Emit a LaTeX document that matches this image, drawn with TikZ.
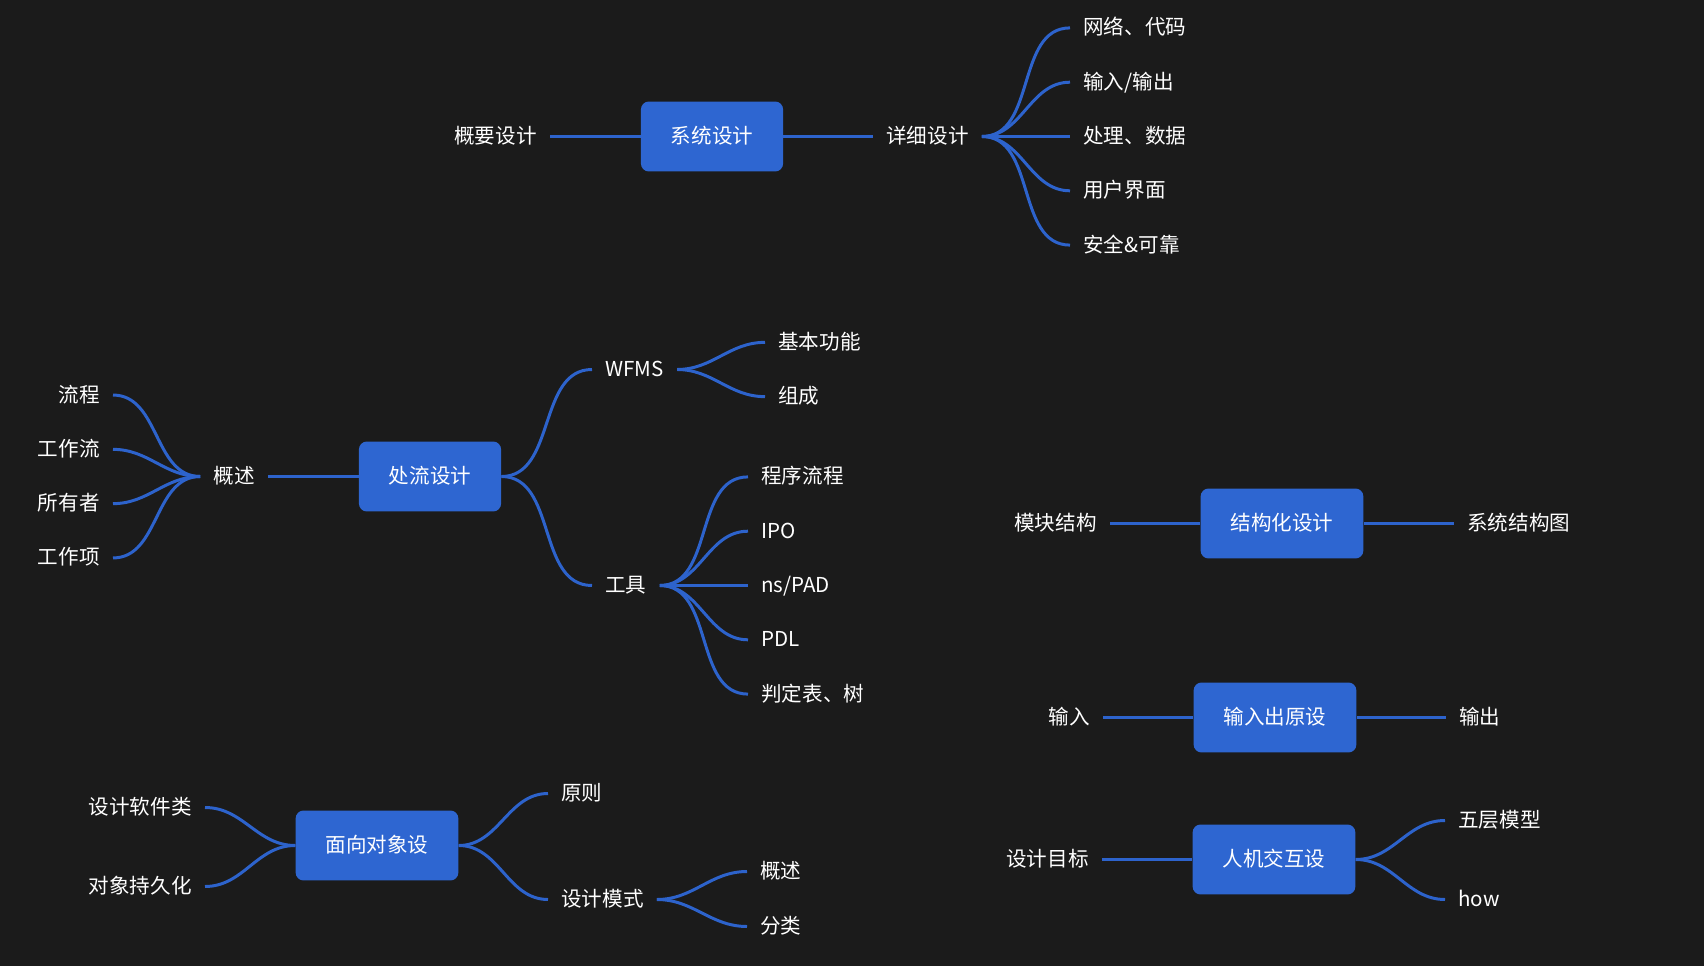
\documentclass[tikz,border=0pt]{standalone}
\usepackage{fontspec}
\setmainfont{Noto Sans CJK SC}
\usetikzlibrary{positioning}
\definecolor{bg}{HTML}{1B1B1B}
\definecolor{boxfill}{HTML}{2E66D1}
\definecolor{link}{HTML}{2D63CC}
\definecolor{txt}{HTML}{FFFFFF}

\begin{document}
\begin{tikzpicture}[
  x=0.02cm, y=-0.02cm,
  font=\fontsize{11.7}{14}\selectfont,
  topic/.style={fill=boxfill, rounded corners=0.16cm, text=txt, inner xsep=0.6cm,
    minimum height=1.4cm, text height=0.86em, text depth=0.06em},
  sub/.style={text=txt, inner xsep=0.26cm, inner ysep=0pt, text height=0.86em, text depth=0.06em},
  lnk/.style={draw=link, line width=1.7pt},
  br/.style={lnk, out=0, in=180},
  bl/.style={lnk, out=180, in=0},
]
\fill[bg] (0,0) rectangle (1704,966);
\begin{scope}[yshift=-0.03cm]
% system design (top)
\node[topic] (sys) at (712,135) {系统设计};
\node[sub, anchor=east] (gy) at (550,135) {概要设计};
\node[sub, anchor=west] (xx) at (873,135) {详细设计};
\draw[lnk] (gy.east) -- (sys.west);
\draw[lnk] (sys.east) -- (xx.west);
\foreach \t [count=\i] in {网络、代码, 输入/输出, 处理、数据, 用户界面, 安全\&可靠} {
  \node[sub, anchor=west] (xx\i) at (1070,{135+(\i-3)*54.3}) {\t};
  \draw[br] (xx.east) to (xx\i.west);
}

% process design (middle left)
\node[topic] (proc) at (430,475) {处流设计};
\node[sub, anchor=east] (gs) at (268,475) {概述};
\draw[lnk] (gs.east) -- (proc.west);
\foreach \t [count=\i] in {流程, 工作流, 所有者, 工作项} {
  \node[sub, anchor=east] (gs\i) at (113,{475+(\i-2.5)*54.3}) {\t};
  \draw[bl] (gs.west) to (gs\i.east);
}
\node[sub, anchor=west] (wfms) at (592,368) {WFMS};
\node[sub, anchor=west] (tool) at (592,584) {工具};
\draw[br] (proc.east) to (wfms.west);
\draw[br] (proc.east) to (tool.west);
\foreach \t [count=\i] in {基本功能, 组成} {
  \node[sub, anchor=west] (wf\i) at (765,{368+(\i-1.5)*54.3}) {\t};
  \draw[br] (wfms.east) to (wf\i.west);
}
\foreach \t [count=\i] in {程序流程, IPO, ns/PAD, PDL, 判定表、树} {
  \node[sub, anchor=west] (tl\i) at (748,{584+(\i-3)*54.3}) {\t};
  \draw[br] (tool.east) to (tl\i.west);
}

% structured design
\node[topic] (struct) at (1282,522) {结构化设计};
\node[sub, anchor=east] (mk) at (1110,522) {模块结构};
\node[sub, anchor=west] (sjt) at (1454,522) {系统结构图};
\draw[lnk] (mk.east) -- (struct.west);
\draw[lnk] (struct.east) -- (sjt.west);

% input/output design
\node[topic] (io) at (1275,716) {输入出原设};
\node[sub, anchor=east] (inp) at (1103,716) {输入};
\node[sub, anchor=west] (outp) at (1446,716) {输出};
\draw[lnk] (inp.east) -- (io.west);
\draw[lnk] (io.east) -- (outp.west);

% human-computer interaction
\node[topic] (hci) at (1274,858) {人机交互设};
\node[sub, anchor=east] (goal) at (1102,858) {设计目标};
\node[sub, anchor=west] (five) at (1445,819) {五层模型};
\node[sub, anchor=west] (how) at (1445,898) {how};
\draw[lnk] (goal.east) -- (hci.west);
\draw[br] (hci.east) to (five.west);
\draw[br] (hci.east) to (how.west);

% object-oriented design (bottom left)
\node[topic] (oo) at (377,844) {面向对象设};
\node[sub, anchor=east] (rj) at (205,806) {设计软件类};
\node[sub, anchor=east] (cj) at (205,885) {对象持久化};
\draw[bl] (oo.west) to (rj.east);
\draw[bl] (oo.west) to (cj.east);
\node[sub, anchor=west] (yz) at (548,792) {原则};
\node[sub, anchor=west] (ms) at (548,898) {设计模式};
\draw[br] (oo.east) to (yz.west);
\draw[br] (oo.east) to (ms.west);
\node[sub, anchor=west] (ms1) at (747,870) {概述};
\node[sub, anchor=west] (ms2) at (747,925) {分类};
\draw[br] (ms.east) to (ms1.west);
\draw[br] (ms.east) to (ms2.west);
\end{scope}
\end{tikzpicture}
\end{document}
